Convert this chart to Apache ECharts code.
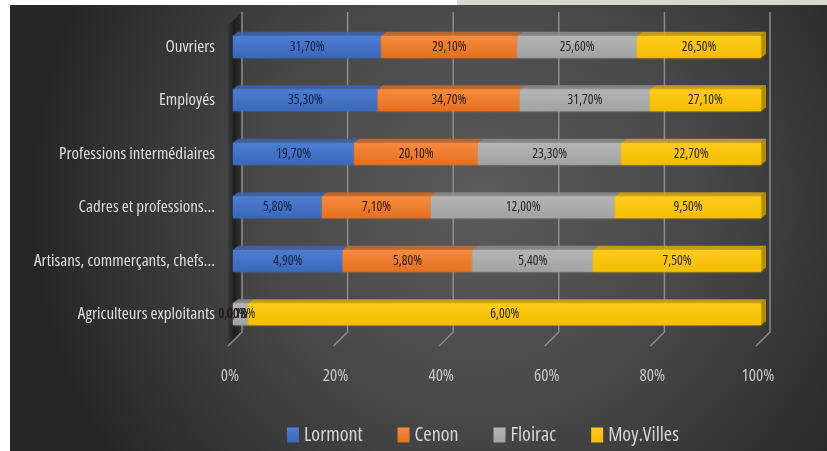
<!DOCTYPE html>
<html>
<head>
<meta charset="utf-8">
<script src="https://cdn.jsdelivr.net/npm/echarts@6/dist/echarts.min.js"></script>
<style>
  html, body { margin: 0; padding: 0; background: #ffffff; }
  #chart { width: 827px; height: 451px; }
</style>
</head>
<body>
<div id="chart"></div>
<script>
// Catégories socio-professionnelles, de haut en bas
const categories = [
  'Ouvriers',
  'Employés',
  'Professions intermédiaires',
  'Cadres et professions…',
  'Artisans, commerçants, chefs…',
  'Agriculteurs exploitants'
];

// Parts (%) par commune
const lormont   = [31.7, 35.3, 19.7, 5.8, 4.9, 0.0];
const cenon     = [29.1, 34.7, 20.1, 7.1, 5.8, 0.0];
const floirac   = [25.6, 31.7, 23.3, 12.0, 5.4, 0.18];
const moyVilles = [26.5, 27.1, 22.7, 9.5, 7.5, 6.0];

const seriesNames = ['Lormont', 'Cenon', 'Floirac', 'Moy.Villes'];
const seriesValues = [lormont, cenon, floirac, moyVilles];

// Graduations de l'axe horizontal (empilement à 100 %)
const xTicks = [0, 20, 40, 60, 80, 100];

// Police étroite : largeur « condensed » de l'axe wdth d'Open Sans
const FONT = '"Open Sans", Roboto, sans-serif';
const STRETCH = 'condensed';

// Styles des faces : avant (dégradé), dessus, côté
const faceStyles = [
  { front: ['#4d7dd3', '#3b67b8'], top: '#3e63a6', side: '#2f5193', label: '#13203c' },
  { front: ['#f68b3f', '#e4701f'], top: '#c46a2e', side: '#a9561f', label: '#2a1606' },
  { front: ['#b5b5b5', '#a2a2a2'], top: '#8a8a8a', side: '#767676', label: '#262626' },
  { front: ['#ffcc1c', '#f4bd00'], top: '#cfa21c', side: '#b58c00', label: '#262626' }
];

// Totaux par catégorie pour la normalisation à 100 %
const totals = categories.map((_, i) =>
  seriesValues.reduce((s, arr) => s + arr[i], 0));

const shares = seriesValues.map(arr => arr.map((v, i) => v / totals[i] * 100));

// Bornes cumulées de chaque segment, pour les faces 3D
const segments = shares.map((arr, s) => arr.map((v, i) => {
  let start = 0;
  for (let k = 0; k < s; k++) start += shares[k][i];
  return [start, start + v, i];
}));

const fmt = v => v.toFixed(2).replace('.', ',') + '%';

const chart = echarts.init(document.getElementById('chart'), null, { renderer: 'canvas' });

const DEPTH_X = 5, DEPTH_Y = 4, BAR_H = 22;

const series = [];

// Faces supérieures et latérales (pseudo-3D)
seriesNames.forEach((name, s) => {
  series.push({
    name: name + ' 3D',
    type: 'custom',
    z: 2,
    silent: true,
    encode: { x: [0, 1], y: 2 },
    data: segments[s],
    renderItem: (params, api) => {
      const a = api.coord([api.value(0), api.value(2)]);
      const b = api.coord([api.value(1), api.value(2)]);
      const yTop = a[1] - BAR_H / 2;
      const children = [{
        type: 'polygon',
        shape: { points: [
          [a[0], yTop], [b[0], yTop],
          [b[0] + DEPTH_X, yTop - DEPTH_Y], [a[0] + DEPTH_X, yTop - DEPTH_Y]
        ] },
        style: { fill: faceStyles[s].top, opacity: 0.9 }
      }];
      if (s === seriesNames.length - 1) {
        children.push({
          type: 'polygon',
          shape: { points: [
            [b[0], yTop], [b[0] + DEPTH_X, yTop - DEPTH_Y],
            [b[0] + DEPTH_X, yTop + BAR_H - DEPTH_Y], [b[0], yTop + BAR_H]
          ] },
          style: { fill: faceStyles[s].side }
        });
      }
      return { type: 'group', children };
    }
  });
});

// Faces avant avec étiquettes de valeurs
seriesNames.forEach((name, s) => {
  series.push({
    name,
    type: 'bar',
    stack: 'total',
    barWidth: BAR_H,
    z: 3,
    itemStyle: {
      color: new echarts.graphic.LinearGradient(0, 0, 0, 1, [
        { offset: 0, color: faceStyles[s].front[0] },
        { offset: 1, color: faceStyles[s].front[1] }
      ]),
      shadowColor: faceStyles[s].front[1],
      shadowBlur: 2
    },
    label: {
      show: true,
      position: 'inside',
      fontFamily: FONT,
      fontWeight: STRETCH,
      fontSize: 13.5,
      color: faceStyles[s].label,
      formatter: p => fmt(seriesValues[s][p.dataIndex])
    },
    data: shares[s]
  });
});

// Quadrillage du fond, mur gauche et lignes du sol
series.push({
  type: 'custom',
  name: 'quadrillage',
  z: 1,
  silent: true,
  encode: { x: 0 },
  data: xTicks.map(v => [v, 0]),
  renderItem: (params, api) => {
    const cs = params.coordSys;
    const x = api.coord([api.value(0), 0])[0];
    const top = cs.y - 8;
    const bottom = cs.y + cs.height - 9;
    const children = [];
    if (api.value(0) === xTicks[0]) {
      children.push({
        type: 'polygon',
        shape: { points: [[x + 9, top], [x + 9, bottom], [x - 5, bottom + 14], [x - 5, top + 14]] },
        style: {
          fill: new echarts.graphic.LinearGradient(0, 0, 1, 0, [
            { offset: 0, color: 'rgba(0,0,0,0.10)' },
            { offset: 0.45, color: 'rgba(0,0,0,0.55)' },
            { offset: 1, color: 'rgba(0,0,0,0.20)' }
          ])
        }
      });
    }
    children.push({
      type: 'polyline',
      shape: { points: [[x + 9, top], [x + 9, bottom], [x - 5, bottom + 14]] },
      style: { stroke: '#8c8c8c', lineWidth: 1.5, fill: null }
    });
    return { type: 'group', children };
  }
});

chart.setOption({
  backgroundColor: '#ffffff',
  animation: false,
  graphic: [
    {
      type: 'rect', z: -10, silent: true,
      shape: { x: 10, y: 5, width: 817, height: 446 },
      style: {
        fill: new echarts.graphic.RadialGradient(480, 200, 450, [
          { offset: 0, color: '#5b5b5b' },
          { offset: 0.5, color: '#474747' },
          { offset: 1, color: '#262626' }
        ], true)
      }
    },
    {
      type: 'rect', z: -10, silent: true,
      shape: { x: 457, y: 0, width: 370, height: 5 },
      style: { fill: '#d3dccb' }
    }
  ],
  grid: { left: 233, right: 66, top: 20, bottom: 110 },
  xAxis: {
    type: 'value',
    min: 0,
    max: 100,
    interval: 20,
    axisLine: { show: false },
    axisTick: { show: false },
    splitLine: { show: false },
    axisLabel: {
      margin: 27,
      fontFamily: FONT,
      fontWeight: STRETCH,
      fontSize: 17,
      color: '#c8c8c8',
      padding: [0, 6, 0, 0],
      formatter: v => v + '%'
    }
  },
  yAxis: {
    type: 'category',
    inverse: true,
    data: categories,
    axisLine: { show: false },
    axisTick: { show: false },
    splitLine: { show: false },
    axisLabel: {
      margin: 18,
      fontFamily: FONT,
      fontWeight: STRETCH,
      fontSize: 17,
      color: '#dedede',
      padding: [14, 0, 0, 0]
    }
  },
  legend: {
    data: seriesNames,
    left: 282,
    top: 420,
    icon: 'rect',
    itemWidth: 12,
    itemHeight: 15,
    itemGap: 35,
    textStyle: { fontFamily: FONT, fontWeight: STRETCH, fontSize: 20, color: '#d6d6d6' }
  },
  series
});
</script>
</body>
</html>
